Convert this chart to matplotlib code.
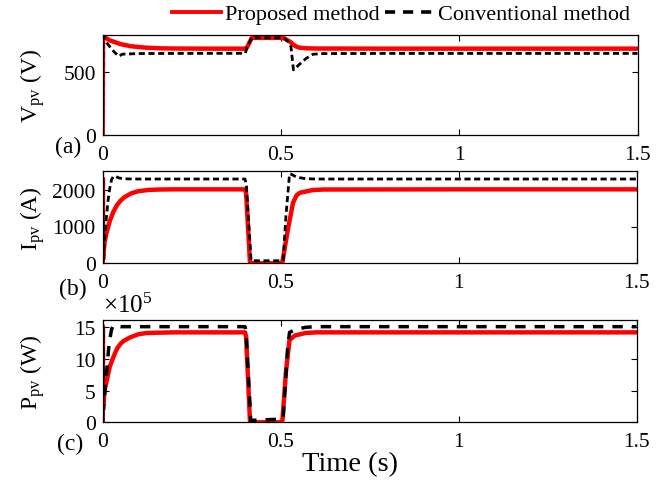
import matplotlib
matplotlib.use("Agg")
import matplotlib.pyplot as plt
from matplotlib.ticker import FuncFormatter
from matplotlib.lines import Line2D

plt.rcParams['font.family'] = ['Liberation Serif', 'DejaVu Serif']
plt.rcParams['mathtext.fontset'] = 'custom'
plt.rcParams['mathtext.rm'] = 'Liberation Serif'
plt.rcParams['mathtext.it'] = 'Liberation Serif:italic'

# ---------------- data ----------------
# (a) PV voltage (V)
t_va_p = [0, 0.001, 0.003, 0.02, 0.05, 0.08, 0.12, 0.16, 0.2, 0.3, 0.4, 0.405, 0.418,
          0.5, 0.51, 0.525, 0.54, 0.55, 0.57, 0.6, 0.8, 1.0, 1.5]
va_p = [0, 790, 785, 755, 725, 708, 697, 692, 690, 689, 689, 700, 775,
        775, 770, 745, 710, 698, 692, 690, 689, 689, 689]
t_va_c = [0, 0.001, 0.003, 0.01, 0.03, 0.045, 0.055, 0.1, 0.2, 0.4, 0.405, 0.418,
          0.5, 0.51, 0.52, 0.528, 0.535, 0.55, 0.57, 0.59, 0.62, 0.8, 1.5]
va_c = [0, 790, 780, 740, 670, 628, 645, 650, 651, 652, 700, 775,
        775, 770, 745, 705, 520, 560, 610, 645, 650, 651, 651]

# (b) PV current (A)
t_ib_p = [0, 0.0005, 0.001, 0.005, 0.01, 0.02, 0.03, 0.04, 0.05, 0.06, 0.08, 0.1, 0.13,
          0.16, 0.2, 0.4, 0.403, 0.414, 0.5, 0.505, 0.52, 0.535, 0.545, 0.555, 0.59, 0.62, 1.0, 1.5]
ib_p = [0, 2300, 100, 550, 800, 1150, 1400, 1580, 1700, 1790, 1900, 1960, 1995,
        2005, 2010, 2010, 1900, 0, 0, 30, 900, 1650, 1850, 1920, 1990, 2005, 2010, 2010]
t_ib_c = [0, 0.0005, 0.001, 0.005, 0.01, 0.015, 0.02, 0.025, 0.03, 0.035, 0.045, 0.06, 0.1,
          0.4, 0.404, 0.417, 0.5, 0.507, 0.515, 0.525, 0.53, 0.545, 0.57, 0.6, 1.0, 1.5]
ib_c = [0, 2300, 100, 600, 1200, 1700, 2050, 2280, 2360, 2370, 2320, 2295, 2290,
        2290, 2100, 70, 70, 90, 1300, 2430, 2420, 2340, 2300, 2290, 2290, 2290]

# (c) PV power (W)
t_pc_p = [0, 0.0005, 0.001, 0.005, 0.011, 0.02, 0.03, 0.04, 0.05, 0.06, 0.077, 0.1, 0.123,
          0.16, 0.2, 0.4, 0.403, 0.414, 0.5, 0.505, 0.515, 0.525, 0.54, 0.57, 0.6, 1.0, 1.5]
pc_p = [0, 15.2e5, 2.0e5, 5.0e5, 6.5e5, 8.8e5, 10.3e5, 11.6e5, 12.4e5, 12.9e5, 13.4e5, 13.9e5, 14.1e5,
        14.15e5, 14.2e5, 14.2e5, 13.5e5, 0, 0, 0.3e5, 8.0e5, 13.0e5, 13.7e5, 14.1e5, 14.2e5, 14.2e5, 14.2e5]
t_pc_c = [0, 0.0005, 0.001, 0.005, 0.011, 0.018, 0.025, 0.03, 0.05, 0.1, 0.4, 0.403, 0.416,
          0.5, 0.507, 0.52, 0.525, 0.54, 0.57, 0.6, 1.0, 1.5]
pc_c = [0, 15.2e5, 2.0e5, 4.0e5, 7.9e5, 12.5e5, 14.7e5, 15.3e5, 15.1e5, 15.1e5, 15.1e5, 14.0e5, 0.3e5,
        0.5e5, 0.6e5, 12.0e5, 14.2e5, 14.6e5, 15.0e5, 15.1e5, 15.1e5, 15.1e5]

x_ticks = [0, 0.5, 1, 1.5]
x_ticklabels = ['0', '0.5', '1', '1.5']

# ---------------- figure ----------------
W, H = 664, 481
fig = plt.figure(figsize=(W / 100, H / 100), dpi=100)

def box(l, t, r, b):
    return [l / W, 1 - b / H, (r - l) / W, (b - t) / H]

ax_a = fig.add_axes(box(102.7, 35.7, 637.5, 136.3))
ax_b = fig.add_axes(box(102.7, 172.3, 636.5, 264.3))
ax_c = fig.add_axes(box(102.7, 320.7, 636.5, 423.3))

RED = '#ff0000'
lw_r = 3.2
lw_k = 2.0
dash_fine = (0, (2.2, 1.3))
dash_long = (0, (3.0, 2.6))

ax_a.plot(t_va_p, va_p, color=RED, lw=lw_r)
ax_a.plot(t_va_c, va_c, color='black', lw=lw_k, linestyle=dash_fine)
ax_b.plot(t_ib_p, ib_p, color=RED, lw=lw_r)
ax_b.plot(t_ib_c, ib_c, color='black', lw=lw_k, linestyle=dash_fine)
ax_c.plot(t_pc_p, pc_p, color=RED, lw=lw_r)
ax_c.plot(t_pc_c, pc_c, color='black', lw=lw_k + 0.5, linestyle=dash_long)

ax_a.set_ylim(0, 800)
ax_a.set_yticks([0, 500])
ax_b.set_ylim(0, 2500)
ax_b.set_yticks([0, 1000, 2000])
ax_c.set_ylim(0, 16.2e5)
ax_c.set_yticks([0, 5e5, 10e5, 15e5])
ax_c.yaxis.set_major_formatter(FuncFormatter(lambda v, p: f'{v / 1e5:g}'))

for ax in (ax_a, ax_b, ax_c):
    ax.set_xlim(0, 1.5)
    ax.set_xticks(x_ticks)
    ax.set_xticklabels(x_ticklabels)
    ax.tick_params(direction='in', top=True, right=True, length=4.5, width=0.8,
                   labelsize=15.5)
    ax.tick_params(axis='x', pad=7)
    ax.tick_params(axis='y', pad=5)
    for s in ax.spines.values():
        s.set_linewidth(0.9)

ax_a.set_ylabel(r'V$_{\rm pv}$ (V)', fontsize=17)
ax_b.set_ylabel(r'I$_{\rm pv}$ (A)', fontsize=17)
ax_c.set_ylabel(r'P$_{\rm pv}$ (W)', fontsize=17)
for ax in (ax_a, ax_b, ax_c):
    ax.yaxis.set_label_coords(-0.105, 0.5)

ax_c.set_xlabel('Time (s)', fontsize=20.5)
ax_c.xaxis.set_label_coords((350 - 102.7) / (636.5 - 102.7), -0.28)

fig.text(0.1547, 1 - 306 / H, r'$\times 10^{5}$', fontsize=18, ha='left', va='center')

fig.text(68 / W, 1 - 147 / H, '(a)', fontsize=17, ha='center', va='center')
fig.text(73 / W, 1 - 289 / H, '(b)', fontsize=17, ha='center', va='center')
fig.text(70 / W, 1 - 444 / H, '(c)', fontsize=17, ha='center', va='center')

h_red = Line2D([], [], color=RED, lw=2.8)
h_blk = Line2D([], [], color='black', lw=2.6, linestyle=(0, (2.8, 2.2)))
fig.legend([h_red, h_blk], ['Proposed method', 'Conventional method'], ncol=2, frameon=False,
           loc='center', bbox_to_anchor=(401 / W, 1 - 15 / H), fontsize=16,
           handlelength=2.2, handletextpad=0.2, columnspacing=0.2, borderaxespad=0)

fig.savefig('out.png', dpi=100)
